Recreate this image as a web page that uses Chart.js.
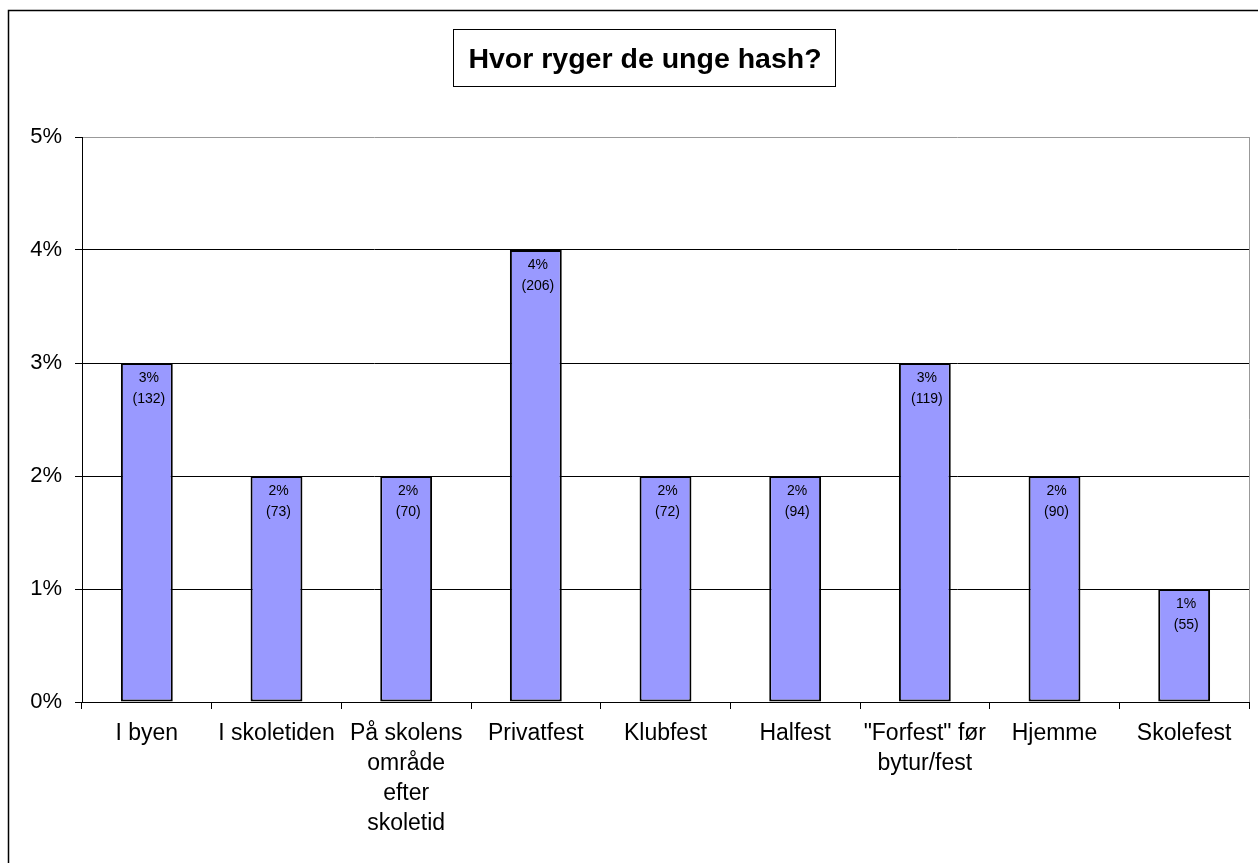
<!DOCTYPE html>
<html>
<head>
<meta charset="utf-8">
<script src="https://cdn.jsdelivr.net/npm/chart.js@4/dist/chart.umd.min.js"></script>
<style>
  html, body { margin: 0; padding: 0; background: #fff; }
  #wrap { width: 1258px; height: 863px; position: relative; }
</style>
</head>
<body>
<div id="wrap"><canvas id="c" width="1258" height="863"></canvas></div>
<script>
const titleText = 'Hvor ryger de unge hash?';
const categories = [
  'I byen',
  'I skoletiden',
  ['På skolens', 'område', 'efter', 'skoletid'],
  'Privatfest',
  'Klubfest',
  'Halfest',
  ['"Forfest" før', 'bytur/fest'],
  'Hjemme',
  'Skolefest'
];
const percentValues = [3, 2, 2, 4, 2, 2, 3, 2, 1];
const counts = [132, 73, 70, 206, 72, 94, 119, 90, 55];
const yTicks = [0, 1, 2, 3, 4, 5];

const FONT = '"Liberation Sans", Arial, sans-serif';

const framePlugin = {
  id: 'frame',
  beforeDraw(chart) {
    const ctx = chart.ctx;
    ctx.save();
    ctx.fillStyle = '#fff';
    ctx.fillRect(0, 0, chart.width, chart.height);
    ctx.strokeStyle = '#000';
    ctx.lineWidth = 1.5;
    ctx.strokeRect(8.5, 10.5, 3000, 3000);
    ctx.restore();
  },
  afterDraw(chart) {
    const ctx = chart.ctx;
    const a = chart.chartArea;
    ctx.save();
    // right border of plot area
    ctx.strokeStyle = '#999';
    ctx.lineWidth = 1;
    ctx.beginPath();
    ctx.moveTo(Math.round(a.right) + 0.5, a.top);
    ctx.lineTo(Math.round(a.right) + 0.5, a.bottom);
    ctx.stroke();
    // title box
    ctx.strokeStyle = '#000';
    ctx.strokeRect(453.5, 29.5, 382, 57);
    ctx.fillStyle = '#000';
    ctx.font = 'bold 28.5px ' + FONT;
    ctx.textAlign = 'center';
    ctx.textBaseline = 'alphabetic';
    ctx.fillText(titleText, 645, 68);
    ctx.restore();
  },
  afterDatasetsDraw(chart) {
    const ctx = chart.ctx;
    const meta = chart.getDatasetMeta(0);
    ctx.save();
    ctx.fillStyle = '#000';
    ctx.font = '14px ' + FONT;
    ctx.textAlign = 'center';
    ctx.textBaseline = 'alphabetic';
    meta.data.forEach((el, i) => {
      ctx.fillText(percentValues[i] + '%', el.x + 2, el.y + 19);
      ctx.fillText('(' + counts[i] + ')', el.x + 2, el.y + 40);
    });
    ctx.restore();
  }
};

new Chart(document.getElementById('c'), {
  type: 'bar',
  data: {
    labels: categories,
    datasets: [{
      data: percentValues,
      backgroundColor: '#9999FF',
      borderColor: '#000',
      borderWidth: 2,
      borderSkipped: false,
      barPercentage: 0.4,
      categoryPercentage: 1.0
    }]
  },
  options: {
    responsive: false,
    devicePixelRatio: 1,
    animation: false,
    layout: { padding: { top: 137, right: 9, left: 0, bottom: 0 } },
    plugins: {
      legend: { display: false },
      title: { display: false },
      tooltip: { enabled: false }
    },
    scales: {
      x: {
        afterFit(s) { s.height = 161; },
        grid: {
          offset: true,
          drawOnChartArea: false,
          drawTicks: true,
          tickLength: 7,
          tickColor: '#000'
        },
        border: { color: '#000', width: 1 },
        ticks: {
          color: '#000',
          padding: 10,
          maxRotation: 0,
          autoSkip: false,
          font: { family: FONT, size: 23, lineHeight: 1.3 }
        }
      },
      y: {
        min: 0,
        max: 5,
        afterFit(s) { s.width = 82; },
        afterBuildTicks(s) { s.ticks = yTicks.map(v => ({ value: v })); },
        grid: {
          color: ctx => (ctx.tick && ctx.tick.value === 5) ? '#999' : '#000',
          drawTicks: true,
          tickLength: 7,
          tickColor: '#000'
        },
        border: { color: '#000', width: 1 },
        ticks: {
          color: '#000',
          padding: 13,
          font: { family: FONT, size: 22 },
          callback: v => v + '%'
        }
      }
    }
  },
  plugins: [framePlugin]
});
</script>
</body>
</html>
